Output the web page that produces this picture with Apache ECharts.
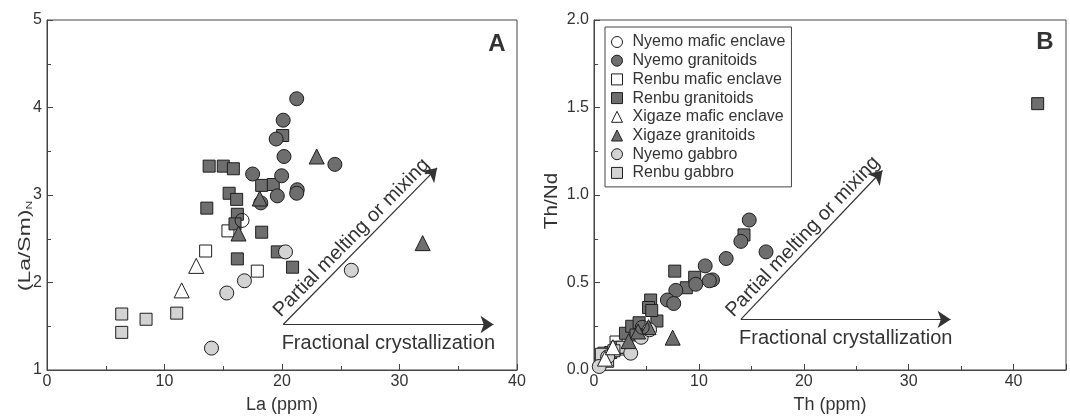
<!DOCTYPE html>
<html><head><meta charset="utf-8">
<script src="https://cdn.jsdelivr.net/npm/echarts@6/dist/echarts.min.js"></script>
<style>html,body{margin:0;padding:0;background:#fff}#c{width:1070px;height:419px}</style>
</head><body><div id="c"></div>
<script>
// ---------- data ----------
const seriesNames = ['Nyemo mafic enclave','Nyemo granitoids','Renbu mafic enclave','Renbu granitoids','Xigaze mafic enclave','Xigaze granitoids','Nyemo gabbro','Renbu gabbro'];
const xTicksA = [0,10,20,30,40];
const yTicksA = [1,2,3,4,5];
const xTicksB = [0,10,20,30,40];
const yTicksB = ['0.0','0.5','1.0','1.5','2.0'];

// Panel A: La (ppm) vs (La/Sm)N
const nyemoMaficA = [[16.6,2.71]];
const nyemoGranA = [[21.25,4.10],[20.1,3.855],[19.5,3.64],[20.17,3.44],[24.5,3.35],[17.5,3.24],[19.97,3.22],[21.3,3.06],[21.25,3.02],[19.6,2.99],[18.2,2.91]];
const renbuMaficA = [[15.4,2.59],[13.5,2.36],[17.9,2.13]];
const renbuGranA = [[20.06,3.68],[13.8,3.33],[15.0,3.33],[15.86,3.30],[18.27,3.11],[19.26,3.12],[15.5,3.02],[16.14,2.95],[13.6,2.85],[16.2,2.78],[16.0,2.67],[18.27,2.575],[19.6,2.35],[16.2,2.27],[20.9,2.175]];
const xigazeMaficA = [[12.7,2.19],[11.46,1.91]];
const xigazeGranA = [[22.95,3.44],[18.1,2.96],[16.3,2.56],[31.97,2.45]];
const nyemoGabA = [[20.3,2.35],[16.8,2.02],[15.3,1.88],[14.0,1.25],[25.9,2.14]];
const renbuGabA = [[6.36,1.64],[6.36,1.43],[8.43,1.58],[11.04,1.65]];

// Panel B: Th (ppm) vs Th/Nd
const nyemoMaficB = [[4.6,0.244]];
const nyemoGranB = [[14.8,0.857],[14.0,0.735],[16.4,0.675],[12.6,0.637],[10.6,0.595],[11.3,0.515],[11.0,0.51],[9.7,0.49],[7.8,0.455],[7.0,0.40],[7.6,0.38]];
const renbuMaficB = [[0.95,0.096],[2.1,0.16],[2.6,0.12]];
const renbuGranB = [[42.3,1.522],[14.3,0.772],[7.7,0.565],[9.6,0.53],[8.8,0.47],[5.4,0.40],[5.2,0.357],[6.0,0.28],[3.0,0.21],[3.6,0.25],[4.3,0.27],[2.2,0.13],[1.6,0.10],[5.5,0.34],[4.0,0.2]];
const xigazeMaficB = [[1.05,0.065],[1.8,0.13]];
const xigazeGranB = [[7.5,0.185],[3.3,0.165],[5.2,0.245],[4.2,0.22]];
const nyemoGabB = [[0.5,0.02],[1.3,0.075],[3.5,0.096],[4.5,0.187],[5.3,0.23]];
const renbuGabB = [[0.7,0.09],[1.3,0.05],[2.7,0.13],[1.9,0.11]];

// Trend arrows [start, end]
const fracA = [[20.1,1.52],[38.0,1.52]];
const meltA = [[20.1,1.52],[33.2,3.31]];
const fracB = [[14.0,0.289],[34.0,0.289]];
const meltB = [[14.0,0.289],[27.5,1.14]];
const fracLabel = 'Fractional crystallization';
const meltLabel = 'Partial melting or mixing';

// ---------- styles ----------
const FONT = 'Liberation Sans, Arial, sans-serif';
const DARK = '#6e6e6e', LIGHT = '#d3d3d3', EDGE = '#1e1e1e', AX = '#444';
const styles = {
  'Nyemo mafic enclave': {symbol:'circle', size:14, color:'rgba(255,255,255,0)'},
  'Nyemo granitoids': {symbol:'circle', size:14, color:DARK},
  'Renbu mafic enclave': {symbol:'rect', size:12, color:'#fff'},
  'Renbu granitoids': {symbol:'rect', size:12, color:DARK},
  'Xigaze mafic enclave': {symbol:'triangle', size:15, color:'#fff'},
  'Xigaze granitoids': {symbol:'triangle', size:15, color:DARK},
  'Nyemo gabbro': {symbol:'circle', size:14, color:LIGHT},
  'Renbu gabbro': {symbol:'rect', size:12, color:LIGHT}
};
const legendIcons = {'Nyemo mafic enclave':'circle','Nyemo granitoids':'circle','Renbu mafic enclave':'rect','Renbu granitoids':'rect','Xigaze mafic enclave':'triangle','Xigaze granitoids':'triangle','Nyemo gabbro':'circle','Renbu gabbro':'rect'};

const drawOrder = [
  ['Renbu mafic enclave', renbuMaficA, renbuMaficB],
  ['Renbu granitoids', renbuGranA, renbuGranB],
  ['Nyemo granitoids', nyemoGranA, nyemoGranB],
  ['Renbu gabbro', renbuGabA, renbuGabB],
  ['Nyemo gabbro', nyemoGabA, nyemoGabB],
  ['Xigaze mafic enclave', xigazeMaficA, xigazeMaficB],
  ['Xigaze granitoids', xigazeGranA, xigazeGranB],
  ['Nyemo mafic enclave', nyemoMaficA, nyemoMaficB]
];

function scatter(name, data, idx) {
  const s = styles[name];
  return {
    name, type:'scatter', xAxisIndex:idx, yAxisIndex:idx, data,
    symbol:s.symbol, symbolSize:s.size,
    itemStyle:{color:s.color, borderColor:EDGE, borderWidth:1, opacity:1},
    emphasis:{disabled:true}, z:3
  };
}

function arrows(idx, frac, melt) {
  const lab = {show:true, fontSize:20, color:'#333', fontFamily:FONT};
  return {
    type:'scatter', xAxisIndex:idx, yAxisIndex:idx, data:[], silent:true,
    markLine:{
      silent:true, symbol:['none','arrow'], symbolSize:13, animation:false,
      lineStyle:{color:'#333', width:1.2, type:'solid'},
      data:[
        [{coord:frac[0], label:Object.assign({}, lab, {formatter:fracLabel, position:'insideMiddleBottom', distance:9})}, {coord:frac[1]}],
        [{coord:melt[0], label:Object.assign({}, lab, {formatter:meltLabel, position:'insideMiddleTop', distance:2})}, {coord:melt[1]}]
      ]
    }
  };
}

function xAxis(idx, max, name) {
  return {
    gridIndex:idx, type:'value', min:0, max, interval:10, name, nameLocation:'middle', nameGap:26,
    nameTextStyle:{fontSize:18, color:'#333', fontFamily:FONT},
    axisLine:{onZero:false, lineStyle:{color:AX, width:1}},
    axisTick:{inside:true, length:6, lineStyle:{color:AX}},
    minorTick:{show:true, splitNumber:2, length:4, lineStyle:{color:AX}},
    splitLine:{show:false},
    axisLabel:{fontSize:16, color:'#333', fontFamily:FONT, margin:4, showMaxLabel: max===40,
      formatter: v => (xTicksA.indexOf(v) >= 0 ? String(v) : '')}
  };
}
function yAxis(idx, min, max, interval, labels) {
  return {
    gridIndex:idx, type:'value', min, max, interval,
    axisLine:{onZero:false, lineStyle:{color:AX, width:1}},
    axisTick:{inside:true, length:6, lineStyle:{color:AX}},
    minorTick:{show:true, splitNumber:2, length:4, lineStyle:{color:AX}},
    splitLine:{show:false},
    axisLabel:{fontSize:16, color:'#333', fontFamily:FONT, margin:5,
      formatter: v => { const i = Math.round((v-min)/interval); return labels[i] !== undefined ? String(labels[i]) : ''; }}
  };
}

const series = [];
drawOrder.forEach(([n, a]) => series.push(scatter(n, a, 0)));
drawOrder.forEach(([n, , b]) => series.push(scatter(n, b, 1)));
series.push(arrows(0, fracA, meltA));
series.push(arrows(1, fracB, meltB));

const option = {
  animation:false,
  backgroundColor:'#fff',
  textStyle:{fontFamily:FONT},
  grid:[
    {left:47, top:20, width:470, height:353, show:true, borderColor:AX, borderWidth:1, backgroundColor:'transparent'},
    {left:594, top:20, width:472, height:353, show:true, borderColor:AX, borderWidth:1, backgroundColor:'transparent'}
  ],
  xAxis:[xAxis(0, 40, 'La (ppm)'), xAxis(1, 45, 'Th (ppm)')],
  yAxis:[yAxis(0, 1, 5, 1, yTicksA), yAxis(1, 0, 2, 0.5, yTicksB)],
  legend:{
    orient:'vertical', left:605, top:27, selectedMode:false,
    data: seriesNames.map(n => ({name:n, icon:legendIcons[n], itemStyle:{color: n==='Nyemo mafic enclave' ? '#fff' : styles[n].color, borderColor:EDGE, borderWidth:1}})),
    itemWidth:11, itemHeight:11, itemGap:0.7,
    textStyle:{fontSize:16, color:'#333', fontFamily:FONT, lineHeight:18, padding:[0,0,0,5]},
    borderColor:'#444', borderWidth:1, padding:[6,6,5,6], backgroundColor:'#fff'
  },
  graphic:[
    {type:'text', x:25, y:246, rotation:Math.PI/2, scaleX:1.35, style:{text:'(La/Sm){sub|N}', fontSize:17, fill:'#333', fontFamily:FONT, align:'center', verticalAlign:'middle', lineHeight:19,
      rich:{sub:{fontSize:9, lineHeight:9, verticalAlign:'bottom', fill:'#333', fontFamily:FONT}}}},
    {type:'text', x:552, y:201, rotation:Math.PI/2, scaleX:1.15, style:{text:'Th/Nd', fontSize:18, fill:'#333', fontFamily:FONT, align:'center', verticalAlign:'middle'}},
    {type:'text', x:497, y:44, style:{text:'A', fontSize:24, fontWeight:'bold', fill:'#333', fontFamily:FONT, align:'center', verticalAlign:'middle'}},
    {type:'text', x:1045, y:42, style:{text:'B', fontSize:24, fontWeight:'bold', fill:'#333', fontFamily:FONT, align:'center', verticalAlign:'middle'}}
  ],
  series
};
const chart = echarts.init(document.getElementById('c'), null, {renderer:'canvas'});
chart.setOption(option);
</script></body></html>
